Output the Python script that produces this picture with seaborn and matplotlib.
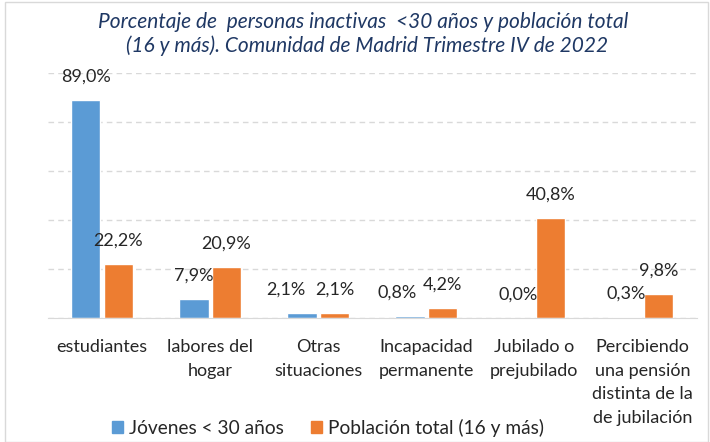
import pandas as pd
import matplotlib.pyplot as plt
import seaborn as sns
from matplotlib.patches import Rectangle

# datos
categorias = ["estudiantes", "labores del\nhogar", "Otras\nsituaciones",
              "Incapacidad\npermanente", "Jubilado o\nprejubilado",
              "Percibiendo\nuna pensión\ndistinta de la\nde jubilación"]
jovenes = [89.0, 7.9, 2.1, 0.8, 0.0, 0.3]
total = [22.2, 20.9, 2.1, 4.2, 40.8, 9.8]
series = ["Jóvenes < 30 años", "Población total (16 y más)"]

df = pd.DataFrame({
    "cat": categorias * 2,
    "valor": jovenes + total,
    "serie": [series[0]] * 6 + [series[1]] * 6,
})

sns.set_style("white")
plt.rcParams["font.family"] = ["Lato", "DejaVu Sans"]

fig = plt.figure(figsize=(7.1, 4.42), dpi=100)
ax = fig.add_axes([0.0676, 0.2805, 0.9134, 0.555])

sns.barplot(data=df, x="cat", y="valor", hue="serie",
            palette=["#5B9BD5", "#ED7D31"], width=0.6, gap=0.1,
            saturation=1, ax=ax, legend=True)

ax.set_ylim(0, 100)
ax.set_xlim(-0.5, 5.5)
ax.set_yticks([0, 20, 40, 60, 80, 100])
ax.set_yticklabels([])
ax.yaxis.grid(True, color="#D9D9D9", linestyle=(0, (4, 3)), linewidth=1)
ax.set_axisbelow(True)
ax.set_xlabel("")
ax.set_ylabel("")
for s in ["left", "right", "top"]:
    ax.spines[s].set_visible(False)
ax.spines["bottom"].set_color("#D9D9D9")
ax.tick_params(axis="x", length=0, pad=15, labelsize=13, labelcolor="#262626")
ax.tick_params(axis="y", length=0)
for lab in ax.get_xticklabels():
    lab.set_linespacing(1.6)

# etiquetas de datos (Excel desplaza algunas para que no se pisen)
desplaz = {(0, 2): -12, (0, 3): -9}
for i, cont in enumerate(ax.containers):
    textos = ax.bar_label(cont, labels=[f"{v:.1f}%".replace(".", ",") for v in cont.datavalues],
                          padding=11, fontsize=13, color="#262626")
    for j, t in enumerate(textos):
        if (i, j) in desplaz:
            t.xyann = (desplaz[(i, j)], 11)

ax.legend_.remove()
handles = [Rectangle((0, 0), 1, 1, color=c) for c in ["#5B9BD5", "#ED7D31"]]
fig.legend(handles, series, loc="center", bbox_to_anchor=(328 / 710, 1 - 428 / 442),
           ncol=2, frameon=False, fontsize=13.8, handlelength=0.6, handleheight=0.6,
           handletextpad=0.3, columnspacing=1.4, labelcolor="#262626")

fig.text(363 / 710, 1 - 22 / 442,
         "Porcentaje de  personas inactivas  <30 años y población total",
         ha="center", va="center", fontsize=15, style="italic", color="#1F3864")
fig.text(367 / 710, 1 - 46 / 442,
         "(16 y más). Comunidad de Madrid Trimestre IV de 2022",
         ha="center", va="center", fontsize=15, style="italic", color="#1F3864")

fig.patches.append(Rectangle((5 / 710, 0), 703 / 710, 1 - 1.5 / 442, transform=fig.transFigure,
                             fill=False, edgecolor="#D9D9D9", linewidth=1))

fig.savefig("out.png", dpi=100)
